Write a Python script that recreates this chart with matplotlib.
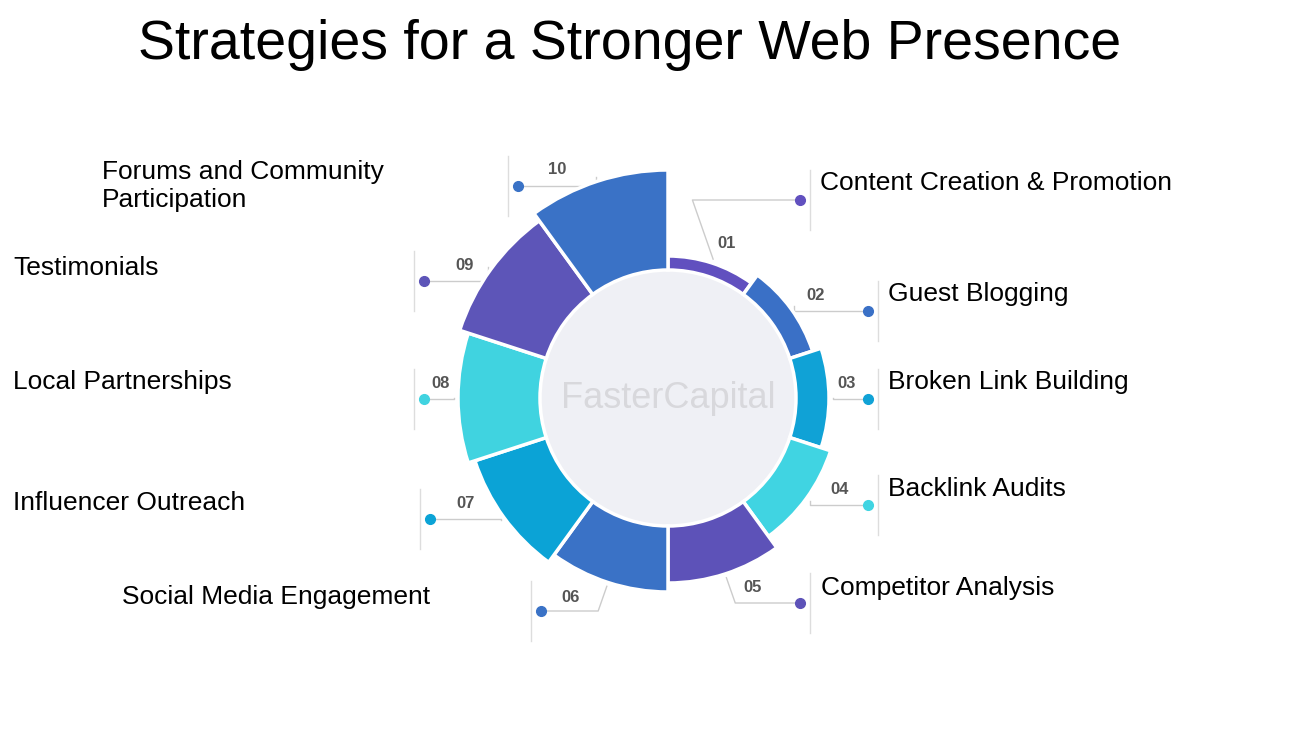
import matplotlib.pyplot as plt
from matplotlib.patches import Wedge, Circle
import numpy as np

plt.rcParams['font.family'] = ['Liberation Sans', 'DejaVu Sans']

# data: ring segments, clockwise from top
numbers = ["01", "02", "03", "04", "05", "06", "07", "08", "09", "10"]
names = ["Content Creation & Promotion", "Guest Blogging", "Broken Link Building",
         "Backlink Audits", "Competitor Analysis", "Social Media Engagement",
         "Influencer Outreach", "Local Partnerships", "Testimonials",
         "Forums and Community\nParticipation"]
outer_r = [142, 152, 161, 171, 185, 194, 203, 210, 219, 228]
colors = ["#6150bf", "#3a70c6", "#10a2d6", "#40d4e2", "#5d52b8",
          "#3a72c6", "#0ba3d6", "#40d3e0", "#5d55b8", "#3a72c6"]

# layout (pixel coords): number label, dot, name label
num_pos = [(727, 244), (816, 295), (847, 383), (840, 489), (753, 587),
           (571, 597), (466, 504), (441, 383), (465, 265), (557, 170)]
dot_pos = [(800, 200), (868, 311), (868, 399), (868, 505), (800, 603),
           (541, 611), (430, 519), (424, 399), (424, 281), (518, 186)]
name_pos = [(820, 183), (888, 294), (888, 382), (888, 489), (821, 588),
            (122, 597), (13, 503), (13, 382), (13, 268), (102, 186)]

cx, cy, r_in = 668, 398, 128

fig = plt.figure(figsize=(13, 7.3), dpi=100)
ax = fig.add_axes([0, 0, 1, 1])
ax.set_xlim(0, 1300)
ax.set_ylim(730, 0)
ax.axis("off")

ax.add_patch(Circle((cx, cy), r_in, color="#eff0f5", zorder=1))
ax.text(cx, cy, "FasterCapital", fontsize=26, color="#d8d8dc", ha="center",
        va="center", zorder=2)

for i in range(10):
    # y axis inverted: screen clockwise from top -> angles in data coords
    a1 = 90 - 36 * i
    a0 = a1 - 36
    th0, th1 = -a1, -a0
    ax.add_patch(Wedge((cx, cy), outer_r[i], th0, th1, width=outer_r[i] - r_in,
                       facecolor=colors[i], edgecolor="white", linewidth=2.5, zorder=3))
    mid = np.radians((th0 + th1) / 2)
    sx = cx + (outer_r[i] + 4) * np.cos(mid)
    sy = cy + (outer_r[i] + 4) * np.sin(mid)
    dx, dy = dot_pos[i]
    bx = sx + (dy - sy) * (0.35 if dx > cx else -0.35) if abs(dy - sy) > 20 else sx
    ax.plot([sx, bx, dx], [sy, dy, dy], color="#cccccc", lw=1, zorder=2)
    ax.plot([dx + (10 if dx > cx else -10)] * 2, [dy - 30, dy + 30], color="#dddddd", lw=1, zorder=2)
    ax.plot(dx, dy, "o", color=colors[i], ms=7, zorder=4)
    nx, ny = num_pos[i]
    ax.text(nx, ny, numbers[i], fontsize=12, fontweight="bold", color="#555555",
            ha="center", va="center")
    tx, ty = name_pos[i]
    ax.text(tx, ty, names[i], fontsize=19, color="black", ha="left", va="center",
            linespacing=1.2)

ax.text(630, 45, "Strategies for a Stronger Web Presence", fontsize=40,
        ha="center", va="center")

fig.savefig("out.png", dpi=100)
